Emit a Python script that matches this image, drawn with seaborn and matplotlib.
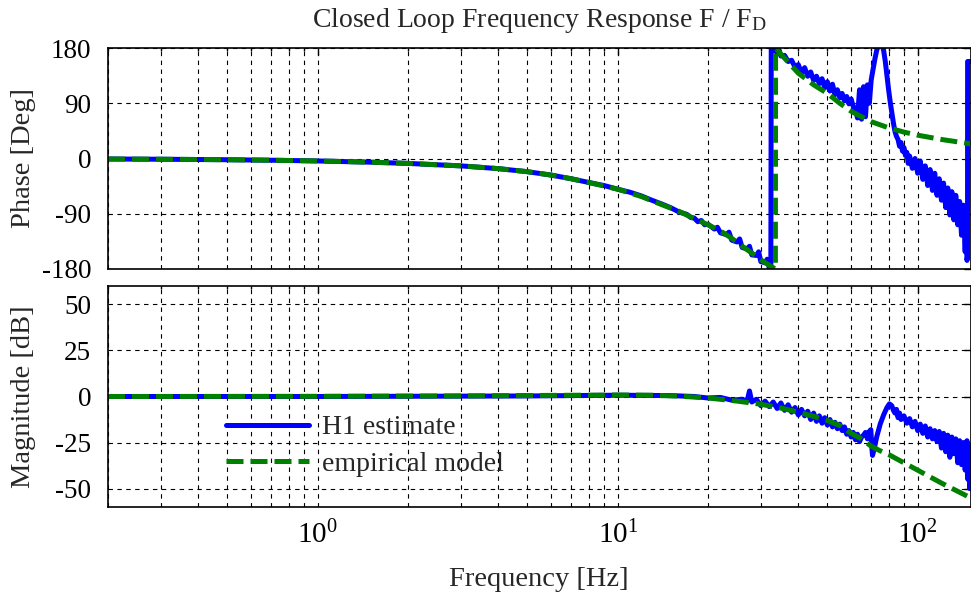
import numpy as np
import pandas as pd
import matplotlib
matplotlib.use("Agg")
import matplotlib.pyplot as plt
import matplotlib.ticker as mticker
import seaborn as sns

# ---------------- data ----------------
model_freq = [0.2, 0.3, 0.5, 0.7, 1.0, 1.5, 2.0, 3.0, 4.0, 5.0, 6.0, 7.0, 8.0, 10.0,
              12.0, 14.0, 16.0, 18.0, 20.0, 22.0, 24.0, 26.0, 28.0, 30.0, 32.0, 33.55,
              33.6, 35.0, 40.0, 45.0, 50.0, 55.0, 60.0, 65.0, 70.0, 80.0, 90.0, 100.0,
              120.0, 150.0]
model_phase = [-0.8, -1.2, -2.0, -2.8, -4.0, -6.0, -8.0, -12.0, -16.5, -21.5, -27.0, -33.0,
               -39.0, -50.0, -62.0, -75.0, -86.0, -98.0, -108.0, -118.0, -130.0, -143.0,
               -154.0, -165.0, -174.0, -180.0, 180.0, 170.0, 139.0, 120.0, 106.0, 90.0,
               77.0, 68.0, 60.0, 50.0, 43.0, 38.0, 31.0, 24.0]

model_mag_freq = [0.2, 1.0, 3.0, 6.0, 10.0, 13.0, 16.0, 20.0, 25.0, 30.0, 35.0, 40.0, 45.0,
                  50.0, 55.0, 60.0, 65.0, 70.0, 75.0, 80.0, 90.0, 100.0, 120.0, 150.0]
model_mag = [0.0, 0.1, 0.3, 0.6, 0.8, 0.7, 0.2, -0.8, -2.5, -4.2, -6.3, -8.5, -10.8,
             -13.0, -15.8, -20.0, -23.0, -27.0, -29.5, -31.5, -36.0, -40.0, -47.0, -55.0]

h1_phase_freq = [0.2, 0.3, 0.5, 0.7, 1.0, 1.5, 2.0, 3.0, 4.0, 5.0, 6.0, 7.0, 8.0, 9.0,
                 10.0, 11.0, 12.0, 13.0, 14.0, 15.0, 16.0, 17.0, 17.5, 18.0, 18.5, 19.0,
                 19.5, 20.0, 21.0, 21.5, 22.0, 23.0, 23.5, 24.0, 25.0, 25.5, 26.0, 27.0,
                 27.5, 28.0, 29.0, 29.5, 30.0, 31.0, 31.5, 32.0, 32.4, 32.5,
                 33, 34, 34.5, 35, 36, 37, 38, 39, 40, 41, 42, 43, 44, 45, 46, 47, 48,
                 49, 50, 51, 52, 53, 54, 55, 56, 57, 58, 59, 60, 61, 62, 63, 64, 65, 66,
                 67, 68, 69, 70, 71, 72, 73, 74, 75, 76, 77, 78, 79, 80, 81, 82, 83, 84,
                 85, 86, 87, 88, 89, 90, 91, 92, 93, 94, 96, 98, 100, 102, 104, 106, 108,
                 110, 112, 114, 116, 118, 120, 122, 124, 126, 128, 130, 132, 134, 136,
                 138, 140, 142, 144, 145, 146, 146.6, 146.7, 150]
h1_phase = [-0.8, -1.2, -2.0, -2.8, -4.0, -6.0, -8.0, -12.0, -16.5, -21.5, -27.0, -33.0,
            -39.0, -44.0, -50.0, -55.0, -61.0, -68.0, -74.0, -80.0, -87.0, -91.0, -96.0,
            -97.0, -103.0, -101.0, -108.0, -107.0, -115.0, -112.0, -121.0, -124.0, -120.0,
            -133.0, -136.0, -131.0, -145.0, -147.0, -143.0, -157.0, -158.0, -152.0,
            -168.0, -170.0, -164.0, -178.0, -176.0, 178.0,
            179, 172, 177, 167, 168, 158, 160, 149, 153, 139, 148, 134, 141, 127, 134,
            122, 130, 115, 125, 110, 121, 104, 112, 99, 106, 94, 101, 89, 97, 85, 80,
            66, 112, 64, 117, 68, 120, 90, 128, 145, 162, 176, 184, 186, 185, 176, 158,
            135, 112, 92, 75, 58, 44, 36, 31, 20, 26, 12, 18, 5, 10, -8, 4, -16, 0,
            -24, -4, -34, -12, -44, -18, -52, -24, -60, -33, -68, -40, -80, -48, -92,
            -54, -100, -60, -108, -70, -125, -76, -152, -90, -166, -160, 158, 158]

h1_mag_freq = [0.2, 1.0, 5.0, 10.0, 15.0, 18.0, 20.0, 22.0, 24.0, 26.0, 27.0, 27.5, 28.0,
               29.0, 30.0, 31.0, 32.0, 33.0, 34.0, 35.0, 36.0, 37.0, 38.0, 39.0, 40.0,
               41.0, 42.0, 43.0, 44.0, 45.0, 46.0, 47.0, 48.0, 49.0, 50.0, 51.0, 52.0,
               53.0, 54.0, 55.0, 56.0, 57.0, 58.0, 59.0, 60.0, 61.0, 62.0, 63.0, 64.0,
               65.0, 66.0, 67.0, 68.0, 69.0, 69.8, 70.3, 70.7, 71.5, 73.0, 75.0, 77.0,
               79.0, 80.5, 82.0, 83.0, 84.0, 85.0, 86.0, 87.0, 88.0, 90.0, 92.0, 94.0,
               96.0, 98.0, 100.0, 102.0, 104.0, 106.0, 108.0, 110.0, 112.0, 114.0, 116.0,
               118.0, 120.0, 122.0, 124.0, 126.0, 128.0, 130.0, 132.0, 134.0, 136.0,
               138.0, 140.0, 142.0, 144.0, 146.0, 147.0, 148.0, 149.0, 150.0]
h1_mag = [0.0, 0.0, 0.3, 0.7, 0.5, 0.0, -0.8, -0.5, -2.0, -1.5, -2.5, 3.0, -3.0, -1.5,
          -5.0, -2.5, -5.5, -3.0, -6.5, -3.5, -7.5, -4.5, -8.5, -6.0, -10.0, -7.0, -10.5,
          -8.0, -12.5, -9.0, -13.5, -10.5, -14.5, -11.5, -15.5, -12.5, -16.5, -14.0,
          -17.5, -15.0, -18.5, -16.5, -20.5, -18.5, -22.0, -19.5, -23.5, -20.5, -24.5,
          -22.0, -21.0, -19.5, -23.0, -19.0, -18.0, -27.0, -32.0, -29.0, -22.0, -15.0,
          -10.0, -6.0, -4.0, -5.0, -7.5, -9.0, -7.0, -11.5, -9.0, -12.5, -10.5, -14.5,
          -12.0, -16.5, -13.5, -18.5, -15.0, -20.0, -16.0, -22.0, -17.5, -23.0, -18.5,
          -24.5, -19.0, -28.0, -20.0, -30.0, -21.0, -33.0, -22.0, -31.0, -23.0, -36.0,
          -24.0, -37.0, -25.0, -40.0, -24.0, -45.0, -26.0, -50.0, -30.0]

phase_ticks = [180, 90, 0, -90, -180]
mag_ticks = [50, 25, 0, -25, -50]
freq_ticks = [1, 10, 100]
freq_ticklabels = [r"$10^{0}$", r"$10^{1}$", r"$10^{2}$"]

title = r"Closed Loop Frequency Response F / F$_{\mathrm{D}}$"
label_h1 = "H1 estimate"
label_model = "empirical model"

# ---------------- style ----------------
sns.set_theme(style="white")
plt.rcParams["font.family"] = ["Liberation Serif", "DejaVu Serif"]
plt.rcParams["mathtext.fontset"] = "custom"
plt.rcParams["mathtext.rm"] = "Liberation Serif"
plt.rcParams["mathtext.it"] = "Liberation Serif:italic"
plt.rcParams["mathtext.bf"] = "Liberation Serif:bold"
plt.rcParams["axes.edgecolor"] = "black"
plt.rcParams["axes.linewidth"] = 1.2

BLUE = "#0000ff"
GREEN = "#008000"
LW = 3.6
FS_TICK = 19.5
FS_XTICK = 21
FS_LABEL = 20.5
FS_LEGEND = 20
FS_TITLE = 20

fig = plt.figure(figsize=(9.71, 5.98), dpi=100)
L, R = 108 / 971, 970.5 / 971
ax1 = fig.add_axes([L, 1 - 269 / 598, R - L, 221 / 598])
ax2 = fig.add_axes([L, 1 - 507 / 598, R - L, 221 / 598])

df_model_ph = pd.DataFrame({"f": model_freq, "v": model_phase})
df_model_mag = pd.DataFrame({"f": model_mag_freq, "v": model_mag})
df_h1_ph = pd.DataFrame({"f": h1_phase_freq, "v": h1_phase})
df_h1_mag = pd.DataFrame({"f": h1_mag_freq, "v": h1_mag})

dash = (0, (3.4, 1.4))

sns.lineplot(data=df_h1_ph, x="f", y="v", ax=ax1, color=BLUE, lw=LW, sort=False,
             estimator=None)
sns.lineplot(data=df_model_ph, x="f", y="v", ax=ax1, color=GREEN, lw=LW, sort=False,
             estimator=None, linestyle=dash)
sns.lineplot(data=df_h1_mag, x="f", y="v", ax=ax2, color=BLUE, lw=LW, sort=False,
             estimator=None, label=label_h1)
sns.lineplot(data=df_model_mag, x="f", y="v", ax=ax2, color=GREEN, lw=LW, sort=False,
             estimator=None, linestyle=dash, label=label_model)

for ax in (ax1, ax2):
    ax.set_xscale("log")
    ax.set_xlim(0.2, 150)
    ax.xaxis.set_major_locator(mticker.FixedLocator(freq_ticks))
    ax.xaxis.set_minor_locator(mticker.LogLocator(base=10, subs=np.arange(2, 10) * 1.0,
                                                  numticks=20))
    ax.xaxis.set_minor_formatter(mticker.NullFormatter())
    ax.set_axisbelow(True)
    ax.grid(True, which="both", axis="x", color="black", lw=0.8, linestyle=(0, (4, 4)))
    ax.grid(True, which="major", axis="y", color="black", lw=0.8, linestyle=(0, (4, 4)))
    ax.tick_params(which="both", direction="in", top=True, right=True, color="black",
                   width=1.0, labelcolor="black")
    ax.tick_params(axis="y", labelsize=FS_TICK, pad=12)
    ax.tick_params(axis="x", labelsize=FS_XTICK)
    ax.tick_params(which="major", length=5)
    ax.tick_params(which="minor", length=2.5)
    ax.set_xlabel("")
    ax.set_ylabel("")
    for s in ax.spines.values():
        s.set_visible(True)
        s.set_color("black")
        s.set_linewidth(1.2)

ax1.set_ylim(-180, 180)
ax1.set_yticks(phase_ticks)
ax1.set_yticklabels([str(t) for t in phase_ticks])
ax1.tick_params(axis="x", labelbottom=False)
ax1.set_ylabel("Phase [Deg]", fontsize=FS_LABEL)
ax1.yaxis.set_label_coords(-0.083, 0.5)
ax1.set_title(title, fontsize=FS_TITLE, pad=15)

ax2.set_ylim(-60, 60)
ax2.set_yticks(mag_ticks)
ax2.set_yticklabels([str(t) for t in mag_ticks])
ax2.set_xticklabels(freq_ticklabels)
ax2.tick_params(axis="x", pad=10)
ax2.set_ylabel("Magnitude [dB]", fontsize=FS_LABEL)
ax2.yaxis.set_label_coords(-0.083, 0.5)
ax2.set_xlabel("Frequency [Hz]", fontsize=FS_LABEL)
ax2.xaxis.set_label_coords(0.5, -0.27)

leg = ax2.legend(loc="center left", bbox_to_anchor=((226 - 108) / 863, (507 - 446) / 221),
                 frameon=False, fontsize=FS_LEGEND, handlelength=3.0, handletextpad=0.45,
                 labelspacing=0.4, borderpad=0, borderaxespad=0)
for h in leg.get_lines():
    h.set_linewidth(LW)

fig.savefig("out.png", dpi=100)
